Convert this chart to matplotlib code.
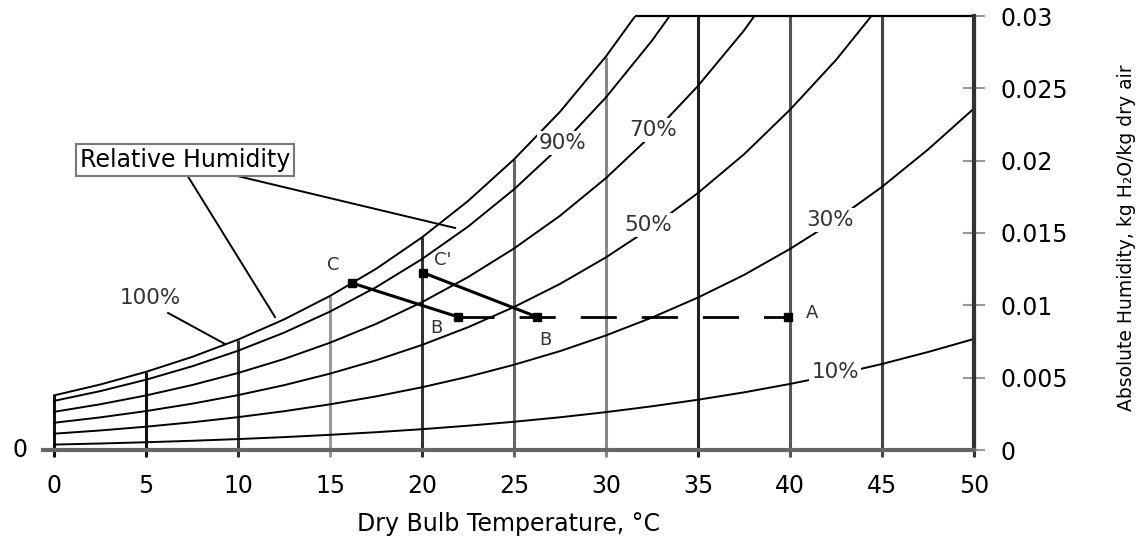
import matplotlib
matplotlib.use('Agg')
import matplotlib.pyplot as plt

plt.rcParams['font.family'] = ['DejaVu Sans']

# dry bulb temperatures (C) for the curve points
temps = [0, 2.5, 5, 7.5, 10, 12.5, 15, 17.5, 20, 22.5, 25, 27.5, 30, 32.5,
         35, 37.5, 40, 42.5, 45, 47.5, 50]

# absolute humidity (kg H2O / kg dry air) along each relative humidity curve
rh_100 = [0.003775, 0.004522, 0.005403, 0.006432, 0.007632, 0.009025, 0.01065,
          0.01252, 0.01470, 0.01721, 0.02009, 0.02338, 0.02721, 0.03160]
rh_90 = [0.003395, 0.004067, 0.004859, 0.005783, 0.006860, 0.008111, 0.009569,
         0.01125, 0.01320, 0.01544, 0.01802, 0.02097, 0.02438, 0.02830, 0.03274]
rh_70 = [0.002638, 0.003159, 0.003772, 0.004489, 0.005323, 0.006290, 0.007417,
         0.008714, 0.01022, 0.01195, 0.01393, 0.01619, 0.01880, 0.02179, 0.02517,
         0.02900, 0.03344]
rh_50 = [0.001882, 0.002253, 0.002690, 0.003200, 0.003793, 0.004480, 0.005280,
         0.006199, 0.007263, 0.008486, 0.009884, 0.01148, 0.01332, 0.01541, 0.01777,
         0.02044, 0.02352, 0.02696, 0.03091]
rh_30 = [0.001128, 0.001350, 0.001611, 0.001916, 0.002270, 0.002680, 0.003157,
         0.003705, 0.004337, 0.005064, 0.005893, 0.006835, 0.007921, 0.009155, 0.01054,
         0.01210, 0.01390, 0.01590, 0.01819, 0.02077, 0.02361]
rh_10 = [0.000375, 0.000449, 0.000536, 0.000637, 0.000755, 0.000891, 0.001049,
         0.001230, 0.001439, 0.001679, 0.001952, 0.002262, 0.002618, 0.003022, 0.003475,
         0.003983, 0.004567, 0.005211, 0.005946, 0.006773, 0.007676]
curves = [rh_100, rh_90, rh_70, rh_50, rh_30, rh_10]

# vertical temperature lines, up to saturation (capped at chart top)
grid_temps = [0, 5, 10, 15, 20, 25, 30, 35, 40, 45, 50]
grid_top = [0.00378, 0.0054, 0.00763, 0.01065, 0.0147, 0.0201, 0.0272, 0.03, 0.03, 0.03, 0.03]
grid_colors = ['#111111', '#111111', '#333333', '#999999', '#333333', '#666666',
               '#888888', '#222222', '#555555', '#444444', '#333333']

# percent labels sitting on the curves
pct_text = ['90%', '70%', '50%', '30%', '10%']
pct_x = [27.66, 32.55, 32.28, 42.17, 42.45]
pct_y = [0.02122, 0.02212, 0.01555, 0.0159, 0.00539]

# process points
pt_names = ['C', "C'", 'B', 'B', 'A']
pt_x = [16.2, 20.05, 21.96, 26.25, 39.9]
pt_y = [0.01154, 0.01226, 0.0092, 0.0092, 0.0092]
lab_x = [15.16, 21.14, 20.8, 26.7, 41.2]
lab_y = [0.0128, 0.01313, 0.00843, 0.0076, 0.00947]

yticks = [0, 0.005, 0.01, 0.015, 0.02, 0.025, 0.03]
yticklabels = ['0', '0.005', '0.01', '0.015', '0.02', '0.025', '0.03']

fig = plt.figure(figsize=(11.42, 5.38), dpi=100)
ax = fig.add_axes([43 / 1142, 88 / 538, 931 / 1142, 434 / 538])
ax.set_xlim(-0.6, 50)
ax.set_ylim(0, 0.03)

# vertical lines
for t, top, c in zip(grid_temps, grid_top, grid_colors):
    ax.vlines(t, -0.0005, top, colors=c, linewidth=2.2, zorder=1, clip_on=False)
ax.hlines(0.03, 31.6, 50, colors='black', linewidth=1.6, zorder=2, clip_on=False)

# RH curves
for vals in curves:
    ax.plot(temps[:len(vals)], vals, color='black', linewidth=1.4, zorder=2)

for s, x, y in zip(pct_text, pct_x, pct_y):
    ax.text(x, y, s, fontsize=15.5, ha='center', va='center', color='#333333', zorder=4,
            bbox=dict(facecolor='white', edgecolor='none', pad=1.5))

# 100% label with leader
ax.text(5.22, 0.01051, '100%', fontsize=15.5, ha='center', va='center', color='#333333')
ax.plot([6.2, 9.29], [0.00947, 0.00733], color='black', linewidth=1.4, zorder=3)

# Relative Humidity box with leaders
ax.text(7.12, 0.02005, 'Relative Humidity', fontsize=17, ha='center', va='center', zorder=4,
        bbox=dict(facecolor='white', edgecolor='#777777', linewidth=1.5, pad=3))
ax.plot([7.23, 12.01], [0.01901, 0.00919], color='black', linewidth=1.4, zorder=3)
ax.plot([9.73, 21.79], [0.01901, 0.01535], color='black', linewidth=1.4, zorder=3)

# process lines
ax.plot([pt_x[0], pt_x[2]], [pt_y[0], pt_y[2]], color='black', linewidth=2.2, zorder=3)
ax.plot([pt_x[1], pt_x[3]], [pt_y[1], pt_y[3]], color='black', linewidth=2.2, zorder=3)
ax.plot([pt_x[2], pt_x[4]], [pt_y[2], pt_y[4]], color='black', linewidth=2,
        linestyle=(0, (13, 9)), zorder=3)
ax.plot(pt_x, pt_y, linestyle='none', marker='s', markersize=6, color='black', zorder=5)
for s, x, y in zip(pt_names, lab_x, lab_y):
    ax.text(x, y, s, fontsize=13, ha='center', va='center', color='#333333')

# axes styling
for side in ['left', 'top']:
    ax.spines[side].set_visible(False)
ax.spines['bottom'].set_color('#666666')
ax.spines['bottom'].set_linewidth(3)
ax.spines['right'].set_color('#333333')
ax.spines['right'].set_linewidth(3)

ax.set_xticks(grid_temps)
ax.set_xticklabels([str(t) for t in grid_temps])
ax.tick_params(axis='x', length=0, pad=17, labelsize=17)
ax.yaxis.tick_right()
ax.set_yticks(yticks)
ax.set_yticklabels(yticklabels)
ax.tick_params(axis='y', direction='inout', length=16, width=1.5, color='#999999',
               pad=11, labelsize=17)
ax.set_xlabel('Dry Bulb Temperature, °C', fontsize=17, labelpad=10)
ax.text(-1.85, 0, '0', fontsize=17, ha='center', va='center')

fig.text(1127 / 1142, 1 - 238 / 538, 'Absolute Humidity, kg H₂O/kg dry air',
         rotation=90, fontsize=13.5, ha='center', va='center')

fig.savefig('out.png', dpi=100)
